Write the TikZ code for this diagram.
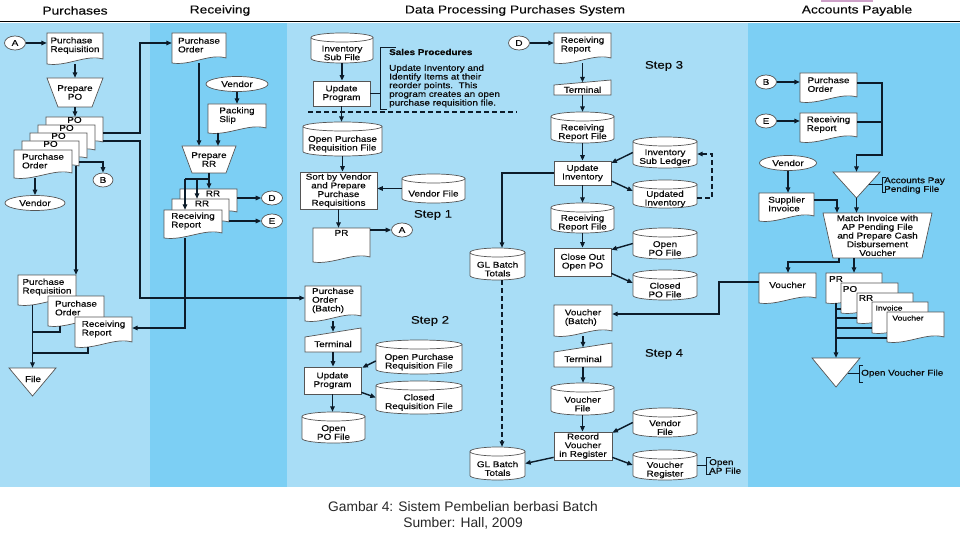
\documentclass[tikz,border=0pt]{standalone}
\usepackage{fontspec}
\setmainfont{Liberation Sans}[FakeStretch=1.18,FakeBold=0.5]
\newfontfamily\capfont{Liberation Sans}
\newfontfamily\hdrfont{Liberation Sans}[FakeStretch=1.2,FakeBold=0.2]
\usetikzlibrary{arrows.meta,shapes.geometric}
\definecolor{paneLight}{RGB}{168,221,246}
\definecolor{paneDark}{RGB}{124,207,244}
\definecolor{lncol}{RGB}{12,28,42}
\definecolor{shcol}{RGB}{85,85,85}
\definecolor{txcol}{RGB}{10,10,10}
\definecolor{tabcol}{RGB}{205,160,200}
\definecolor{capcol}{RGB}{40,40,40}
\newcommand\fsz{\fontsize{8.4}{8.7}\selectfont}
\newcommand\ssz{\fontsize{7.2}{8}\selectfont}
\tikzset{
 lw/.style={draw=lncol, line width=1.4pt},
 arr/.style={lw, -{Triangle[length=5.5pt,width=4.5pt]}},
 dsh/.style={lw, dash pattern=on 5pt off 3pt},
 dsharr/.style={dsh, -{Triangle[length=5.5pt,width=4.5pt]}},
 brk/.style={draw=lncol, line width=0.9pt},
 shp/.style={draw=shcol, line width=0.7pt, fill=white},
 box/.style={draw=none, inner sep=0pt, rectangle},
 txt/.style={font=\fsz, align=center, inner sep=0pt, text=txcol},
 ltxt/.style={txt, align=left},
 conn/.style={shp, ellipse, inner sep=0pt, minimum width=21pt, minimum height=14pt, font=\fsz, text=txcol},
 ell/.style={shp, ellipse, inner sep=0pt, font=\fsz, text=txcol},
 hdr/.style={font=\hdrfont\fontsize{11.5}{13}\selectfont, text=txcol, inner sep=0pt},
 steptxt/.style={font=\hdrfont\fontsize{11}{13}\selectfont, text=txcol, inner sep=0pt},
 pbox/.style={shp, rectangle, inner sep=0pt, font=\fsz, align=center, text=txcol},
 captxt/.style={font=\capfont\fontsize{13.8}{15}\selectfont, text=capcol, inner sep=0pt},
}
% document shape without text
\newcommand\mkDocShape[5]{%
 \path[shp] (#2,#3) -- (#4,#3) -- (#4,{#5-5}) .. controls ({#4-0.3*(#4-#2)},{#5-10}) and ({#2+0.35*(#4-#2)},{#5+3}) .. (#2,#5) -- cycle;
 \node[box, minimum width={(#4-#2)*1pt}, minimum height={(#5-#3)*1pt}] (#1) at ({(#2+#4)/2},{(#3+#5)/2}) {};}
\newcommand\mkDoc[6]{%
 \mkDocShape{#1}{#2}{#3}{#4}{#5}
 \node[ltxt] (#1-t) at ([yshift=3pt]#1.center) {#6};}
\newcommand\mkDisk[6]{%
 \path[shp] (#2,{#3+4.5}) -- (#2,{#5-4.5}) arc[start angle=180,end angle=360,x radius={(#4-#2)/2*1pt},y radius=4.5pt] -- (#4,{#3+4.5}) arc[start angle=0,end angle=180,x radius={(#4-#2)/2*1pt},y radius=4.5pt] -- cycle;
 \draw[draw=shcol,line width=0.7pt] (#2,{#3+4.5}) arc[start angle=180,end angle=360,x radius={(#4-#2)/2*1pt},y radius=4.5pt];
 \node[box, minimum width={(#4-#2)*1pt}, minimum height={(#5-#3)*1pt}] (#1) at ({(#2+#4)/2},{(#3+#5)/2}) {};
 \node[txt] (#1-t) at ([yshift=-5pt]#1.center) {#6};}
\newcommand\mkTerm[7]{%
 \path[shp] (#2,{#3+#6}) -- (#4,#3) -- (#4,#5) -- (#2,#5) -- cycle;
 \node[box, minimum width={(#4-#2)*1pt}, minimum height={(#5-#3)*1pt}] (#1) at ({(#2+#4)/2},{(#3+#5)/2}) {};
 \node[txt] (#1-t) at ([yshift=-#6*0.45pt]#1.center) {#7};}
\newcommand\mkTrap[7]{%
 \path[shp] (#2,#3) -- (#4,#3) -- ({#4-#6},#5) -- ({#2+#6},#5) -- cycle;
 \node[box, minimum width={(#4-#2)*1pt}, minimum height={(#5-#3)*1pt}] (#1) at ({(#2+#4)/2},{(#3+#5)/2}) {};
 \node[txt] (#1-t) at (#1.center) {#7};}
\newcommand\mkTri[5]{%
 \path[shp] (#2,#3) -- (#4,#3) -- ({(#2+#4)/2},#5) -- cycle;
 \node[box, minimum width={(#4-#2)*1pt}, minimum height={(#5-#3)*1pt}] (#1) at ({(#2+#4)/2},{(#3+#5)/2}) {};}
\newcommand\mkBox[6]{%
 \node[pbox, minimum width={(#4-#2)*1pt}, minimum height={(#5-#3)*1pt}] (#1) at ({(#2+#4)/2},{(#3+#5)/2}) {#6};}

\begin{document}
\begin{tikzpicture}[x=1pt,y=-1pt]
\useasboundingbox (0,0) rectangle (960,540);
\fill[white] (0,0) rectangle (960,540);
% panels
\fill[paneLight] (0,23) rectangle (150,487);
\fill[paneDark] (150,23) rectangle (287,487);
\fill[paneLight] (287,23) rectangle (748,487);
\fill[paneDark] (748,23) rectangle (960,487);
\fill[tabcol] (821,0) rectangle (873,2);
\draw[draw=black, line width=1.6pt] (0,21.5) -- (960,21.5);
% headers
\node[hdr] (hPur) at (75,10.5) {Purchases};
\node[hdr] (hRec) at (220,10.5) {Receiving};
\node[hdr] (hDP) at (515,10.5) {Data Processing Purchases System};
\node[hdr] (hAP) at (857,10.5) {Accounts Payable};

% ===== Purchases =====
\node[conn] (cA) at (15,43) {A};
\mkDoc{pReq}{47}{33}{103}{64}{Purchase\\Requisition}
\mkTrap{prepPO}{47}{78}{103}{107}{11}{Prepare\\PO}
\mkDocShape{po1}{46}{117}{103}{147}
\node[txt, anchor=north] (po1-l) at (po1.north) {PO};
\mkDocShape{po2}{38}{125}{95}{155}
\node[txt, anchor=north] (po2-l) at (po2.north) {PO};
\mkDocShape{po3}{30}{133}{87}{163}
\node[txt, anchor=north] (po3-l) at (po3.north) {PO};
\mkDocShape{po4}{22}{141}{79}{171}
\node[txt, anchor=north] (po4-l) at (po4.north) {PO};
\mkDoc{pOrd}{14}{150}{72}{178}{Purchase\\Order}
\node[ell, minimum width=60pt, minimum height=15pt] (v1) at (35,203) {Vendor};
\node[conn, minimum width=20pt] (cB) at (103,180) {B};
\mkDoc{pReq2}{18}{275}{76}{305}{Purchase\\Requisition}
\mkDoc{pOrd2}{48}{296}{104}{326}{Purchase\\Order}
\mkDoc{pRR}{75}{317}{132}{347}{Receiving\\Report}
\mkTri{fileT}{9}{368}{56}{396}
\node[txt] (fileL) at (33,379) {File};

% ===== Receiving =====
\mkDoc{rPO}{172}{33}{226}{63}{Purchase\\Order}
\node[ell, minimum width=62pt, minimum height=15pt] (rVen) at (237,84) {Vendor};
\mkDoc{packSlip}{208}{104}{266}{133}{Packing\\Slip}
\mkTrap{prepRR}{182}{146}{236}{173}{10}{Prepare\\RR}
\mkDocShape{rr1}{180}{189}{237}{217}
\node[txt] (rr1-l) at (213,193.5) {RR};
\mkDocShape{rr2}{172}{199}{229}{227}
\node[txt] (rr2-l) at (202,203.5) {RR};
\mkDoc{rRep}{164}{210}{222}{238}{Receiving\\Report}
\node[conn] (cD) at (272,198) {D};
\node[conn] (cE) at (272,221) {E};

% ===== Data processing: step 1 =====
\mkDisk{invSub}{311}{33}{373}{63}{Inventory\\Sub File}
\mkBox{updProg1}{313}{81}{370}{106}{Update\\Program}
\node[txt, font=\fsz\bfseries, anchor=west] (salesH) at (389,52) {Sales Procedures};
\node[ltxt, anchor=north west] (salesB) at (389,64.5) {Update Inventory and\\Identify Items at their\\reorder points.~~This\\program creates an open\\purchase requisition file.};
\mkDisk{opReq1}{303}{122}{382}{156}{Open Purchase\\Requisition File}
\mkBox{sortB}{300}{172}{377}{209}{Sort by Vendor\\and Prepare\\Purchase\\Requisitions}
\mkDisk{vFile1}{402}{174}{465}{203}{Vendor File}
\node[steptxt] (st1) at (433,215) {Step 1};
\mkDocShape{prDoc}{313}{228}{370}{262}
\node[txt, anchor=north] (prDoc-l) at ([yshift=-2pt]prDoc.north) {PR};
\node[conn] (cA2) at (402,230) {A};

% step 2
\mkDoc{dpPOB}{305}{286}{361}{321}{Purchase\\Order\\(Batch)}
\node[steptxt] (st2) at (430,321) {Step 2};
\mkTerm{term1}{305}{328}{361}{352}{9}{Terminal}
\mkBox{updProg2}{304}{367}{361}{394}{Update\\Program}
\mkDisk{opReq2}{376}{340}{462}{374}{Open Purchase\\Requisition File}
\mkDisk{clReq}{376}{381}{462}{414}{Closed\\Requisition File}
\mkDisk{opPO}{302}{412}{365}{443}{Open\\PO File}

% step 3
\node[conn] (cD2) at (519,43) {D};
\mkDoc{rRep3}{554}{33}{611}{63}{Receiving\\Report}
\mkTerm{term2}{554}{80}{611}{95}{5}{Terminal}
\mkDisk{rrFile1}{551}{112}{614}{143}{Receiving\\Report File}
\mkBox{updInv}{554}{161}{611}{185}{Update\\Inventory}
\mkDisk{invSL}{633}{137}{697}{168}{Inventory\\Sub Ledger}
\mkDisk{updInvD}{633}{180}{697}{208}{Updated\\Inventory}
\mkDisk{rrFile2}{551}{203}{614}{233}{Receiving\\Report File}
\mkBox{closeOut}{554}{248}{611}{276}{Close Out\\Open PO}
\mkDisk{opPOF}{633}{228}{697}{259}{Open\\PO File}
\mkDisk{clPOF}{633}{270}{697}{300}{Closed\\PO File}
\node[steptxt] (st3) at (664,66) {Step 3};
\mkDisk{glB1}{470}{248}{525}{280}{GL Batch\\Totals}
\mkDisk{glB2}{470}{447}{525}{480}{GL Batch\\Totals}

% step 4
\mkDoc{vBatch}{554}{305}{612}{336}{Voucher\\(Batch)}
\node[steptxt] (st4) at (664,354) {Step 4};
\mkTerm{term3}{554}{343}{612}{367}{9}{Terminal}
\mkDisk{vFile}{551}{383}{614}{415}{Voucher\\File}
\mkBox{recV}{554}{432}{612}{460}{Record\\Voucher\\in Register}
\mkDisk{vendF}{633}{408}{697}{437}{Vendor\\File}
\mkDisk{vReg}{633}{450}{697}{480}{Voucher\\Register}
\node[ltxt, anchor=west] (openAP) at (709,466.5) {Open\\AP File};

% ===== Accounts payable =====
\node[conn] (cB2) at (766,82) {B};
\mkDoc{apPO}{800}{73}{857}{102}{Purchase\\Order}
\node[conn] (cE2) at (766,121) {E};
\mkDoc{apRR}{800}{113}{857}{142}{Receiving\\Report}
\mkTri{apTri}{833}{172}{880}{198}
\node[ltxt, anchor=west] (apTriL) at (884,185.5) {Accounts Pay\\Pending File};
\node[ell, minimum width=57pt, minimum height=15pt] (apVen) at (788,163) {Vendor};
\mkDoc{supInv}{759}{193}{814}{221}{Supplier\\Invoice}
\mkTrap{match}{823}{213}{932}{258}{10}{Match Invoice with\\AP Pending File\\and Prepare Cash\\Disbursement\\Voucher}
\mkDoc{apV}{759}{273}{816}{303}{Voucher}
\mkDocShape{sPR}{826}{273}{882}{303}
\node[txt] (sPR-l) at (836,279) {PR};
\mkDocShape{sPO}{841}{283}{898}{313}
\node[txt] (sPO-l) at (850,289) {PO};
\mkDocShape{sRR}{857}{293}{913}{323}
\node[txt] (sRR-l) at (866,298) {RR};
\mkDocShape{sInv}{872}{302}{928}{333}
\node[txt, font=\ssz] (sInv-l) at (889,308) {Invoice};
\mkDocShape{sV}{887}{312}{944}{342}
\node[txt, font=\ssz] (sV-l) at (908,318) {Voucher};
\mkTri{apTri2}{812}{358}{860}{387}
\node[txt, anchor=west] (ovf) at (861,373.5) {Open Voucher File};

% caption
\node[captxt] (cap1) at (463,507) {Gambar 4: Sistem Pembelian berbasi Batch};
\node[captxt] (cap2) at (463,523) {Sumber: Hall, 2009};

% ===== connectors: purchases =====
\draw[arr] (cA) -- (pReq.west |- cA);
\draw[arr] (pReq.south) -- (prepPO.north);
\draw[arr] (prepPO.south) -- (prepPO.south |- po1.north);
\draw[arr] (v1.north |- pOrd.south) -- (v1.north);
\coordinate (kB) at (103,162);
\draw[arr] (po4.east |- kB) -- (kB) -- (cB);
\coordinate (k2) at (76,166);
\draw[arr] (k2) -- (k2 |- pReq2.north);
\coordinate (k3) at (140,133);
\coordinate (k4) at (140,43);
\draw[arr] (po1.east |- k3) -- (k3) -- (k4) -- (rPO.west |- k4);
\coordinate (k5) at (140,141);
\coordinate (k6) at (140,298);
\draw[arr] (po1.east |- k5) -- (k5) -- (k6) -- (dpPOB.west |- k6);
\draw[arr] (fileT.north |- pReq2.south) -- (fileT.north);
\coordinate (k7) at (60,332);
\draw[lw] (k7 |- pOrd2.south) -- (k7) -- (fileT.north |- k7);
\coordinate (k8) at (88,353);
\draw[lw] (k8 |- pRR.south) -- (k8) -- (fileT.north |- k8);
\coordinate (k9) at (185,328);
\draw[arr] (k9 |- rRep.south) -- (k9) -- (pRR.east |- k9);

% receiving
\draw[arr] (rPO.south) -- (rPO.south |- prepRR.north);
\draw[arr] (rVen.south) -- (rVen.south |- packSlip.north);
\coordinate (k11) at (218,146);
\draw[arr] (k11 |- packSlip.south) -- (k11);
\coordinate (k12) at (209,179);
\coordinate (k13) at (185,179);
\coordinate (k14) at (197,179);
\draw[lw] (k12 |- prepRR.south) -- (k12) -- (k13);
\draw[arr] (k12) -- (k12 |- rr1.north);
\draw[arr] (k14) -- (k14 |- rr2.north);
\draw[arr] (k13) -- (k13 |- rRep.north);
\draw[arr] (rr1.east |- cD) -- (cD);
\draw[arr] (rr2.east |- cE) -- (cE);

% data processing step 1
\draw[arr] (invSub.south) -- (invSub.south |- updProg1.north);
\coordinate (br1) at (380,47);
\coordinate (br2) at (380,109);
\draw[brk] (updProg1.east) -- (br1 |- updProg1.east);
\draw[brk] ([xshift=16pt]br1) -- (br1) -- (br2) -- ([xshift=7pt]br2);
\coordinate (ds1) at (308,112);
\coordinate (ds2) at (517,112);
\draw[dsh] (ds1) -- (ds2);
\draw[arr] (updProg1.south) -- (updProg1.south |- opReq1.north);
\draw[arr] (opReq1.south) -- (opReq1.south |- sortB.north);
\draw[arr] (vFile1.west) -- (sortB.east |- vFile1.west);
\draw[arr] (sortB.south) -- (sortB.south |- prDoc.north);
\draw[arr] (prDoc.east |- cA2) -- (cA2);

% step 2
\draw[arr] (dpPOB.south) -- ([yshift=-4pt]term1.north);
\draw[arr] (term1.south) -- (term1.south |- updProg2.north);
\draw[arr] ([yshift=-4pt]opReq2.west) -- ([xshift=1pt,yshift=-1pt]updProg2.north east);
\draw[arr] ([yshift=2pt]updProg2.south east) -- (clReq.west);
\draw[arr] (updProg2.south) -- (updProg2.south |- opPO.north);

% step 3
\draw[arr] (cD2) -- (rRep3.west |- cD2);
\draw[arr] (rRep3.south) -- ([yshift=-2.5pt]term2.north);
\draw[arr] (term2.south) -- (term2.south |- rrFile1.north);
\draw[arr] (rrFile1.south) -- (rrFile1.south |- updInv.north);
\draw[arr] (invSL.west) -- ([yshift=10pt]updInv.east);
\draw[arr] ([yshift=-8pt]updInv.east) -- ([yshift=3pt]updInvD.west);
\coordinate (dk1) at (712,198);
\coordinate (dk2) at (712,154);
\draw[dsharr] (updInvD.east |- dk1) -- (dk1) -- (dk2) -- (invSL.east |- dk2);
\coordinate (gk) at (502,173);
\draw[arr] (updInv.west |- gk) -- (gk) -- (gk |- glB1.north);
\draw[arr] (updInv.south) -- (updInv.south |- rrFile2.north);
\draw[arr] (rrFile2.south) -- (rrFile2.south |- closeOut.north);
\draw[arr] (opPOF.west) -- ([yshift=-2pt]closeOut.north east);
\draw[arr] ([yshift=3pt]closeOut.south east) -- ([yshift=2pt]clPOF.west);
\draw[dsharr] (gk |- glB1.south) -- (gk |- glB2.north);

% step 4
\coordinate (vk1) at (719,282);
\coordinate (vk2) at (719,314);
\draw[arr] (apV.west |- vk1) -- (vk1) -- (vk2) -- (vBatch.east |- vk2);
\draw[arr] (vBatch.south) -- ([yshift=-4.5pt]term3.north);
\draw[arr] (term3.south) -- (term3.south |- vFile.north);
\draw[arr] (vFile.south) -- (vFile.south |- recV.north);
\draw[arr] (vendF.west) -- ([yshift=-1pt]recV.north east);
\draw[arr] ([yshift=3pt]recV.south east) -- (vReg.west);
\draw[arr] ([yshift=3pt]recV.south west) -- (glB2.east);
\coordinate (ob1) at (706,457);
\coordinate (ob2) at (706,474);
\draw[brk] (vReg.east) -- (ob1 |- vReg.east);
\draw[brk] ([xshift=5pt]ob1) -- (ob1) -- (ob2) -- ([xshift=5pt]ob2);

% accounts payable
\draw[arr] (cB2) -- (apPO.west |- cB2);
\draw[arr] (cE2) -- (apRR.west |- cE2);
\coordinate (ak1) at (882,83);
\coordinate (ak2) at (882,155);
\coordinate (ak4) at (882,122);
\draw[arr] (apPO.east |- ak1) -- (ak1) -- (ak2) -- (apTri.north |- ak2) -- (apTri.north);
\draw[lw] (apRR.east |- ak4) -- (ak4);
\coordinate (tb1) at (882,177);
\coordinate (tb2) at (882,192);
\coordinate (tb3) at (869,184.5);
\draw[brk] (tb3) -- (tb3 -| tb1);
\draw[brk] ([xshift=4pt]tb1) -- (tb1) -- (tb2) -- ([xshift=4pt]tb2);
\draw[arr] (apVen.south) -- (apVen.south |- supInv.north);
\coordinate (sk) at (837,200);
\draw[arr] (supInv.east |- sk) -- (sk) -- (sk |- match.north);
\draw[arr] (apTri.south) -- (apTri.south |- match.north);
\coordinate (mk1) at (839,262);
\coordinate (mk2) at (788,262);
\draw[arr] (mk1 |- match.south) -- (mk1) -- (mk2) -- (mk2 |- apV.north);
\coordinate (mk3) at (854,262);
\draw[arr] (mk3 |- match.south) -- (mk3 |- sPR.north);
\coordinate (sv) at (836,303);
\draw[arr] (sv |- sPR.south) -- (sv |- apTri2.north);
\coordinate (sl1) at (836,309);
\draw[lw] (sl1) -- (sPO.west |- sl1);
\coordinate (sl2) at (836,318);
\draw[lw] (sl2) -- (sRR.west |- sl2);
\coordinate (sl3) at (836,328);
\draw[lw] (sl3) -- (sInv.west |- sl3);
\coordinate (sl4) at (836,338);
\draw[lw] (sl4) -- (sV.west |- sl4);
\coordinate (ob3) at (859,365);
\coordinate (ob4) at (859,382);
\coordinate (ob5) at (847.5,373.5);
\draw[brk] (ob5) -- (ob5 -| ob3);
\draw[brk] ([xshift=4pt]ob3) -- (ob3) -- (ob4) -- ([xshift=4pt]ob4);
\end{tikzpicture}
\end{document}
